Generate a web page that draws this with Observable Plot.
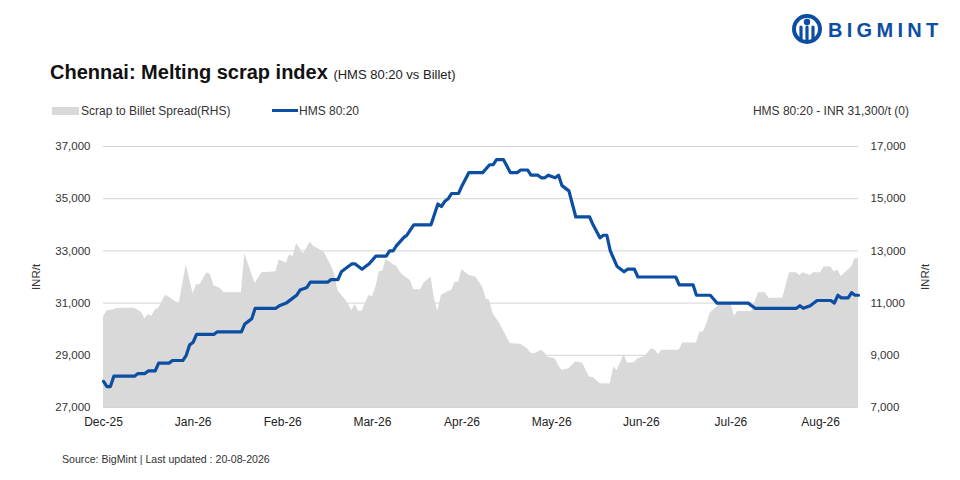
<!DOCTYPE html>
<html>
<head>
<meta charset="utf-8">
<script src="https://cdn.jsdelivr.net/npm/d3@7"></script>
<script src="https://cdn.jsdelivr.net/npm/@observablehq/plot@0.6"></script>
<style>
  body { margin: 0; background: #fff; font-family: "Liberation Sans", Arial, sans-serif; color: #222; }
  #wrap { position: relative; width: 960px; height: 480px; overflow: hidden; background: #fff; }
  #chart { position: absolute; left: 0; top: 0; }
  .abs { position: absolute; white-space: nowrap; }
  #title { left: 50px; top: 61px; font-size: 20px; font-weight: bold; color: #111; }
  #title span { font-size: 13px; font-weight: normal; color: #222; }
  .leg { top: 104px; font-size: 12px; color: #333; line-height: 14px; }
  #caption { left: 62px; top: 453px; font-size: 10.6px; color: #333; }
  #logo { left: 790px; top: 12px; }
</style>
</head>
<body>
<div id="wrap">
  <div id="chart"></div>
  <div id="logo" class="abs">
    <svg width="165" height="34" viewBox="0 0 165 34">
      <circle cx="17" cy="17" r="13" fill="none" stroke="#0b4ea2" stroke-width="4"/>
      <circle cx="17" cy="10" r="3.2" fill="#0b4ea2"/>
      <path d="M11 15 L11 27 M17 15 L17 30 M23 15 L23 27" stroke="#0b4ea2" stroke-width="3.2" stroke-linecap="round"/>
      <text x="38" y="25" font-family="Liberation Sans, Arial, sans-serif" font-weight="bold" font-size="20" letter-spacing="4.3" fill="#0b4ea2">BIGMINT</text>
    </svg>
  </div>
  <div id="title" class="abs">Chennai: Melting scrap index <span>(HMS 80:20 vs Billet)</span></div>
  <div class="abs leg" style="left:52px;"><span style="display:inline-block;width:27px;height:8px;background:#d9d9d9;vertical-align:middle;margin-right:2px;position:relative;top:-1px;"></span>Scrap to Billet Spread(RHS)</div>
  <div class="abs leg" style="left:272px;"><span style="display:inline-block;width:26px;height:3px;background:#0b4ea2;vertical-align:middle;margin-right:1px;position:relative;top:-1px;"></span>HMS 80:20</div>
  <div class="abs leg" style="right:51px;">HMS 80:20 - INR 31,300/t (0)</div>
  <div id="caption" class="abs">Source: BigMint | Last updated : 20-08-2026</div>
</div>
<script>
// ---- data (x = trading-day index from 1 Dec 2025) ----
const monthLabels = ["Dec-25","Jan-26","Feb-26","Mar-26","Apr-26","May-26","Jun-26","Jul-26","Aug-26"];
const monthTickIdx = [0, 26, 52, 78, 104, 130, 156, 182, 208];
const lastIdx = 219;

const leftTicks  = [27000, 29000, 31000, 33000, 35000, 37000];
const rightTicks = [7000, 9000, 11000, 13000, 15000, 17000];

// HMS 80:20 (INR/t, left axis)
const hmsIdx = [0,1,2,3,9,10,12,13,15,16,19,20,23,24,25,26,27,32,33,40,41,42,43,44,50,51,53,55,56,57,59,60,65,66,68,69,71,72,73,75,76,77,79,82,83,84,85,87,88,90,95,96,97,98,99,100,101,103,104,106,110,112,113,114,116,118,120,121,123,124,126,127,128,129,131,132,133,135,137,141,142,144,145,146,147,149,151,152,154,155,166,167,171,172,176,178,187,189,201,202,203,205,207,211,212,213,214,216,217,218,219];
const hmsVal = [28000,27800,27800,28200,28200,28300,28300,28400,28400,28700,28700,28800,28800,29000,29400,29500,29800,29800,29900,29900,30200,30300,30400,30800,30800,30900,31000,31200,31300,31500,31600,31800,31800,31900,31900,32200,32400,32500,32500,32300,32400,32500,32800,32800,33000,33000,33200,33500,33600,34000,34000,34400,34800,34700,34900,35000,35200,35200,35500,36000,36000,36300,36300,36500,36500,36000,36000,36100,36100,35900,35900,35800,35800,35900,35800,35900,35500,35300,34300,34300,34000,33500,33600,33600,33000,32400,32200,32300,32300,32000,32000,31700,31700,31300,31300,31000,31000,30800,30800,30900,30800,30900,31100,31100,31000,31300,31200,31200,31400,31300,31300];

// Scrap to Billet Spread (INR/t, right axis)
const spreadIdx = [0,1,3,4,9,11,12,13,14,15,16,18,19,21,22,24,26,27,28,30,31,32,34,35,40,41,42,44,46,50,51,53,54,55,56,57,58,60,61,62,64,66,67,68,70,71,72,73,74,75,77,78,79,80,81,82,84,85,86,87,89,90,92,93,95,96,97,98,100,101,102,103,104,106,108,110,111,112,113,115,116,118,121,123,124,125,127,128,129,131,132,133,135,137,139,140,141,142,143,144,147,148,149,151,152,154,155,157,159,160,161,162,167,168,172,173,174,175,176,178,179,182,183,184,188,190,192,193,197,199,201,202,203,205,206,208,209,211,212,213,214,215,217,218,219];
const spreadVal = [10480,10700,10750,10800,10800,10650,10400,10560,10500,10740,10800,11300,11230,11040,11000,12470,11360,11700,11700,12160,12100,11670,11550,11400,11400,12900,12500,11750,12160,12200,12660,12530,12850,12780,13270,13080,12890,13340,13170,13100,12950,12440,12130,11480,11160,10970,10720,10950,10690,10690,11290,11230,11610,12190,12230,12670,12480,12420,12190,12060,11870,11510,11510,11770,12000,11160,10690,11290,11440,11480,11800,11800,12290,12060,12000,11610,11160,11100,10590,10210,9950,9440,9420,9250,9080,9060,9190,9090,8930,8870,8610,8420,8480,8740,8700,8420,8160,8160,8040,7910,7900,8550,8420,9030,8700,8710,8870,8950,9250,9190,9030,9190,9190,9470,9470,9890,9890,10210,10620,10850,10970,10970,10500,10680,10680,11400,11400,11190,11190,12160,12160,12060,12160,12060,12160,12160,12380,12380,12190,12270,12020,12140,12380,12700,12700];

// ---- build ----
const leftDomain = [leftTicks[0], leftTicks[leftTicks.length - 1]];
const rightDomain = [rightTicks[0], rightTicks[rightTicks.length - 1]];
const toLeft = d3.scaleLinear().domain(rightDomain).range(leftDomain);
const toRight = d3.scaleLinear().domain(leftDomain).range(rightDomain);
const fmt = d3.format(",");

const hms = hmsIdx.map((t, i) => ({t, v: hmsVal[i]}));
const spread = spreadIdx.map((t, i) => ({t, v: spreadVal[i]}));

const BLUE = "#0b4ea2";
const chart = Plot.plot({
  width: 960,
  height: 480,
  marginLeft: 103,
  marginRight: 102,
  marginTop: 146,
  marginBottom: 73,
  style: {fontFamily: "'Liberation Sans', Arial, sans-serif", fontSize: "11.5px", color: "#333", background: "transparent"},
  x: {domain: [0, lastIdx]},
  y: {domain: leftDomain},
  marks: [
    Plot.gridY(leftTicks, {stroke: "#d4d4d4", strokeOpacity: 1, strokeWidth: 1}),
    Plot.areaY(spread, {x: "t", y1: leftDomain[0], y2: d => toLeft(d.v), fill: "#d9d9d9", curve: "linear"}),
    Plot.lineY(hms, {x: "t", y: "v", stroke: BLUE, strokeWidth: 3.2, strokeLinejoin: "round", strokeLinecap: "round"}),
    Plot.axisY(leftTicks, {anchor: "left", tickSize: 0, tickPadding: 13, tickFormat: fmt,
      label: "INR/t", labelAnchor: "center", labelArrow: "none", labelOffset: 72, fill: "#333"}),
    Plot.axisY(leftTicks, {anchor: "right", tickSize: 0, tickPadding: 12, tickFormat: d => fmt(Math.round(toRight(d))),
      label: "INR/t", labelAnchor: "center", labelArrow: "none", labelOffset: 70, fill: "#333"}),
    Plot.axisX(monthTickIdx, {anchor: "bottom", tickSize: 0, tickPadding: 10, fontSize: 12,
      tickFormat: (d) => monthLabels[monthTickIdx.indexOf(d)], label: null, fill: "#222"})
  ]
});
document.getElementById("chart").appendChild(chart);
</script>
</body>
</html>
